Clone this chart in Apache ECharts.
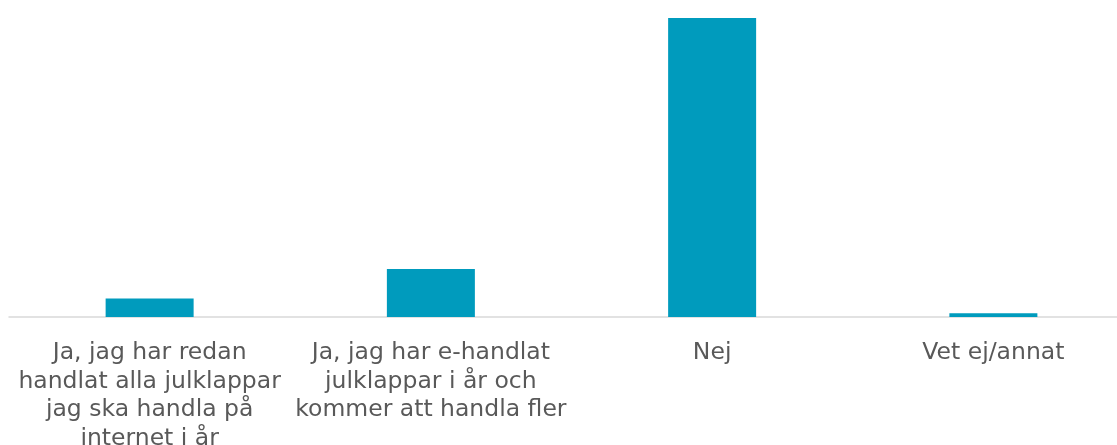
<!DOCTYPE html>
<html>
<head>
<meta charset="utf-8">
<script src="https://cdn.jsdelivr.net/npm/echarts@6/dist/echarts.min.js"></script>
<style>
  html, body { margin: 0; padding: 0; background: #fff; }
  #chart { width: 1117px; height: 445px; }
</style>
</head>
<body>
<div id="chart"></div>
<script>
// answers (line breaks as in the original chart)
const categories = [
  'Ja, jag har redan\nhandlat alla julklappar\njag ska handla på\ninternet i år',
  'Ja, jag har e-handlat\njulklappar i år och\nkommer att handla fler',
  'Nej',
  'Vet ej/annat'
];
// share of respondents, %
const values = [5, 13, 81, 1];

const chart = echarts.init(document.getElementById('chart'));

chart.setOption({
  animation: false,
  grid: { left: 9, top: 18, width: 1125, bottom: 128, outerBoundsMode: 'none', containLabel: false },
  xAxis: {
    type: 'category',
    data: categories,
    axisLine: { lineStyle: { color: '#d9d9d9', width: 1.5 } },
    axisTick: { show: false },
    axisLabel: {
      interval: 0,
      margin: 22,
      color: '#595959',
      fontFamily: 'DejaVu Sans',
      fontSize: 23.5,
      lineHeight: 28.5,
      align: 'center'
    }
  },
  yAxis: {
    type: 'value',
    min: 0,
    max: 81,
    show: false,
    splitLine: { show: false }
  },
  series: [{
    type: 'bar',
    data: values,
    barWidth: 88,
    itemStyle: { color: '#009bbd' }
  }]
});
</script>
</body>
</html>
